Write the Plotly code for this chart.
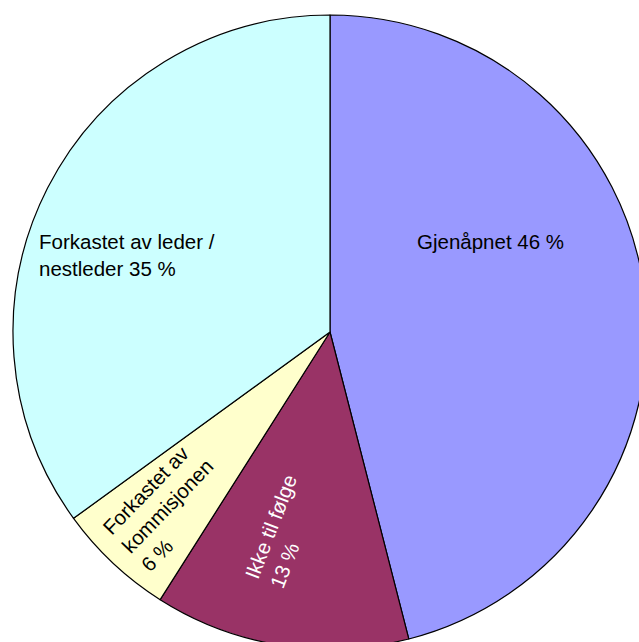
import plotly.graph_objects as go

# ---- data ----
categories = ["Gjenåpnet", "Ikke til følge", "Forkastet av kommisjonen", "Forkastet av leder / nestleder"]
values = [46, 13, 6, 35]
label_texts = [
    "Gjenåpnet 46 %",
    "Ikke til følge<br>13 %",
    "Forkastet av<br>kommisjonen<br>6 %",
    "Forkastet av leder /<br>nestleder 35 %",
]

# ---- style ----
colors = ["#9999FF", "#993366", "#FFFFCC", "#CCFFFF"]
text_colors = ["#000000", "#FFFFFF", "#000000", "#000000"]
# label anchor positions in pixels, rotation, alignment
label_px = [(490, 241), (283, 532), (167, 506), (37, 255)]
label_rot = [0, -69, -46, 0]
label_xanchor = ["center", "center", "center", "left"]
label_align = ["center", "left", "left", "left"]

W, H = 647, 649
ML, MT = 13, 15
SIDE = 634

fig = go.Figure(go.Pie(
    labels=categories,
    values=values,
    sort=False,
    direction="clockwise",
    rotation=0,
    marker=dict(colors=colors, line=dict(color="#000000", width=1.2)),
    textinfo="none",
    hoverinfo="label+percent",
    showlegend=False,
    domain=dict(x=[0, 1], y=[0, 1]),
))

for txt, (px, py), rot, xa, al, col in zip(label_texts, label_px, label_rot, label_xanchor, label_align, text_colors):
    fig.add_annotation(
        x=(px - ML) / SIDE, y=1 - (py - MT) / SIDE,
        xref="paper", yref="paper",
        text=txt, showarrow=False, textangle=rot,
        xanchor=xa, yanchor="middle", align=al,
        font=dict(family="Liberation Sans, Arial, sans-serif", size=20.5, color=col),
    )

fig.update_layout(
    width=W, height=H,
    margin=dict(l=ML, t=MT, r=W - ML - SIDE, b=H - MT - SIDE, pad=0),
    paper_bgcolor="white",
    plot_bgcolor="white",
)

fig.write_html(
    "out.html",
    config={"displayModeBar": False},
    post_script="document.body.style.margin='0';document.body.style.overflow='hidden';document.documentElement.style.overflow='hidden';",
)
